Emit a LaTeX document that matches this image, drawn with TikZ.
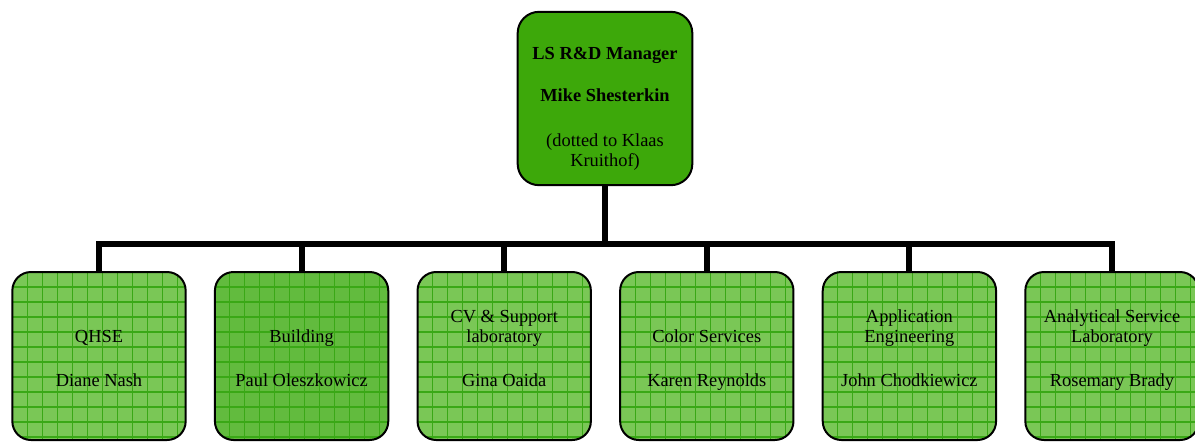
\documentclass[tikz,border=0pt]{standalone}
\usepackage{fontspec}
\setmainfont{Liberation Serif}
\usetikzlibrary{positioning}
\definecolor{headgreen}{RGB}{61,168,10}
\definecolor{unitgreen}{RGB}{122,199,86}
\definecolor{bldggreen}{RGB}{98,187,62}
\definecolor{gridgreen}{RGB}{58,168,22}
\tikzset{%
    x=0.75pt, y=-0.75pt,
    every node/.style={font=\fontsize{13.8pt}{15pt}\selectfont},
    headbox/.style={rectangle, draw, line width=1.5pt, rounded corners=16pt,
        fill=headgreen, minimum width=131pt, minimum height=130pt},
    unitbox/.style={rectangle, draw, line width=1.5pt, rounded corners=14pt,
        fill=unitgreen, minimum width=130pt, minimum height=126pt,
        path picture={\foreach \g in {1,...,11} {
            \draw[gridgreen, line width=0.8pt] (-65pt+\g*11.25pt,70pt) -- (-65pt+\g*11.25pt,-70pt);
            \draw[gridgreen, line width=0.8pt] (-70pt,63pt-\g*11.25pt) -- (70pt,63pt-\g*11.25pt);
        }}},
    bldgbox/.style={unitbox, fill=bldggreen},
    unittitle/.style={anchor=base, align=center, inner sep=0pt},
    unitname/.style={anchor=base, inner sep=0pt},
    link/.style={draw, line width=4.5pt}
}
\begin{document}
\begin{tikzpicture}
    \useasboundingbox (0,0) rectangle (1195,443);
    % manager
    \node[headbox] (mgr) at (605,98.5) {};
    \node[unittitle] (mgr-text) at (605,166) {\bfseries LS R\&D Manager\\[16.5pt]
        \bfseries Mike Shesterkin\\[18.75pt] (dotted to Klaas\\Kruithof)};
    \coordinate (bus) at (605,244);
    \draw[link] (mgr) -- (bus);
    % units
    \foreach \nm/\i/\sty/\ttl/\who in {%
        qhse/0/unitbox/{QHSE}/{Diane Nash},
        bldg/1/bldgbox/{Building}/{Paul Oleszkowicz},
        cvlab/2/unitbox/{CV \& Support\\laboratory}/{Gina Oaida},
        colsrv/3/unitbox/{Color Services}/{Karen Reynolds},
        appeng/4/unitbox/{Application\\Engineering}/{John Chodkiewicz},
        aslab/5/unitbox/{Analytical Service\\Laboratory}/{Rosemary Brady}} {
        \pgfmathsetmacro\cx{99+202.6*\i}
        \node[\sty] (\nm) at (\cx,356) {};
        \node[unittitle] (\nm-title) at (\cx,342) {\ttl};
        \node[unitname] (\nm-name) at (\cx,386) {\who};
        \draw[link] (bus) -| (\nm.north);
    }
\end{tikzpicture}
\end{document}
